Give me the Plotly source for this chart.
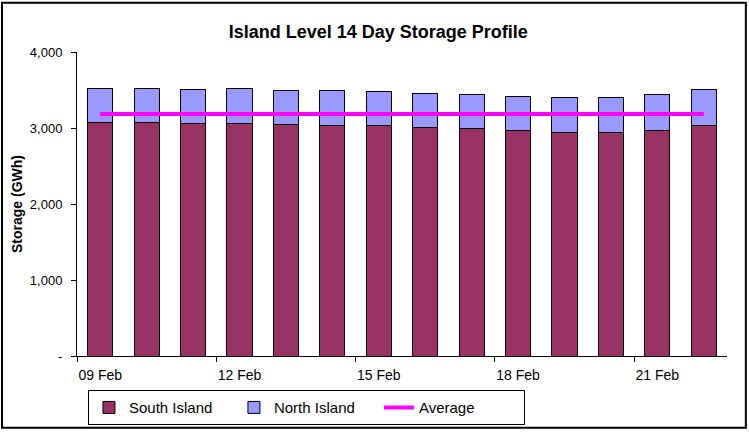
import plotly.graph_objects as go

days = ["09 Feb", "10 Feb", "11 Feb", "12 Feb", "13 Feb", "14 Feb", "15 Feb",
        "16 Feb", "17 Feb", "18 Feb", "19 Feb", "20 Feb", "21 Feb", "22 Feb"]
south_island = [3067, 3071, 3062, 3058, 3041, 3036, 3028, 3010, 2989, 2967, 2946, 2937, 2963, 3032]
north_island = [449, 449, 441, 458, 457, 462, 453, 449, 457, 453, 449, 466, 479, 471]
average = [3183] * len(days)

y_ticks = [0, 1000, 2000, 3000, 4000]
y_labels = ["-", "1,000", "2,000", "3,000", "4,000"]

x = list(range(len(days)))
label_pos = x[::3]
label_text = days[::3]

fig = go.Figure()
fig.add_trace(go.Bar(
    x=x, y=south_island, name="South Island",
    marker=dict(color="#993366", line=dict(color="black", width=1)),
    width=0.54,
))
fig.add_trace(go.Bar(
    x=x, y=north_island, name="North Island",
    marker=dict(color="#9999FF", line=dict(color="black", width=1)),
    width=0.54,
))
fig.add_trace(go.Scatter(
    x=x, y=average, name="Average", mode="lines",
    line=dict(color="#FF00FF", width=4),
))

fig.update_layout(
    barmode="stack",
    width=749, height=437,
    margin=dict(l=77, r=22, t=52, b=76),
    plot_bgcolor="white",
    paper_bgcolor="white",
    font=dict(family="Arial", color="black", size=12),
    title=dict(
        text="<b>Island Level 14 Day Storage Profile</b>",
        font=dict(family="Arial", size=18, color="black"),
        x=0.505, xanchor="center", y=0.927, yanchor="middle",
    ),
    legend=dict(
        orientation="h",
        x=0.353, xanchor="center", y=-0.17, yanchor="middle",
        bordercolor="black", borderwidth=1,
        font=dict(family="Arial", size=15, color="black"),
        entrywidth=100, entrywidthmode="pixels",
        traceorder="normal",
    ),
    shapes=[dict(
        type="rect", xref="paper", yref="paper",
        x0=-0.1154, x1=1.029, y0=-0.236, y1=1.162,
        line=dict(color="black", width=2),
    )],
)

fig.update_xaxes(
    range=[-0.5, 13.5], automargin=False,
    tickmode="array", tickvals=label_pos, ticktext=label_text,
    ticks="", showgrid=False, zeroline=False,
    showline=True, linecolor="black", linewidth=1,
    tickfont=dict(family="Arial", size=14, color="black"),
    ticklabelstandoff=6,
    minor=dict(tickmode="array", tickvals=[p - 0.5 for p in label_pos],
               ticks="outside", ticklen=5, tickcolor="black", showgrid=False),
)

fig.update_yaxes(
    range=[0, 4000], automargin=False,
    tickmode="array", tickvals=y_ticks, ticktext=y_labels,
    ticks="outside", ticklen=5, tickcolor="black",
    showgrid=False, zeroline=False,
    showline=True, linecolor="black", linewidth=1,
    tickfont=dict(family="Arial", size=13, color="black"),
    ticklabelstandoff=6,
    title=dict(text="<b>Storage (GWh)</b>", font=dict(family="Arial", size=14, color="black"), standoff=3),
)

# page has a default 8px body margin; drop it so the figure sits at 0,0
fig.write_html(
    "out.html",
    config={"displayModeBar": False},
    post_script="document.body.style.margin='0'; document.body.style.overflow='hidden';",
)
